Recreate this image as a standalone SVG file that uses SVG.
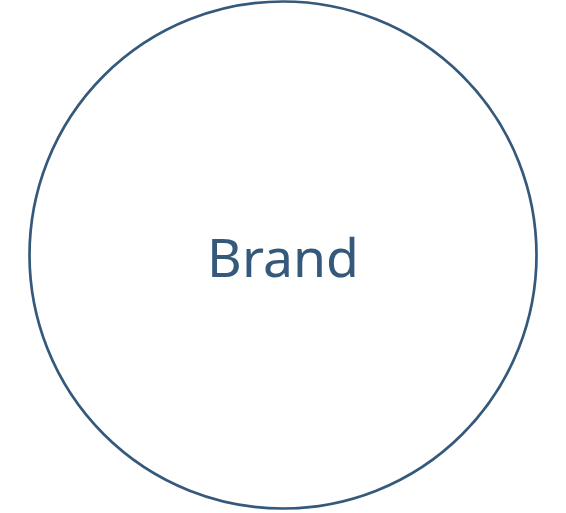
<svg xmlns="http://www.w3.org/2000/svg" width="566" height="513" viewBox="0 0 566 513">
<style>
.node-shape{fill:#ffffff;stroke:#35597b;stroke-width:2.7}
.node-label{font-family:"Noto Sans","Open Sans",sans-serif;font-size:53.5px;fill:#35597b;text-anchor:middle}
</style>
<rect width="566" height="513" fill="#ffffff"/>
<g id="connectors"></g>
<g id="node-brand">
<circle class="node-shape" cx="283" cy="255" r="253.5"/>
<text class="node-label" x="283" y="277">Brand</text>
</g>
</svg>
